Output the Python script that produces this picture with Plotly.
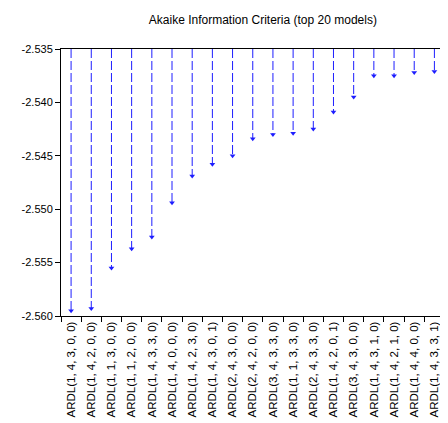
import plotly.graph_objects as go

models = [
    "ARDL(1, 4, 3, 0, 0)", "ARDL(1, 4, 2, 0, 0)", "ARDL(1, 1, 3, 0, 0)", "ARDL(1, 1, 2, 0, 0)",
    "ARDL(1, 4, 3, 3, 0)", "ARDL(1, 4, 0, 0, 0)", "ARDL(1, 4, 2, 3, 0)", "ARDL(1, 4, 3, 0, 1)",
    "ARDL(2, 4, 3, 0, 0)", "ARDL(2, 4, 2, 0, 0)", "ARDL(3, 4, 3, 3, 0)", "ARDL(1, 1, 3, 3, 0)",
    "ARDL(2, 4, 3, 3, 0)", "ARDL(1, 4, 2, 0, 1)", "ARDL(3, 4, 3, 0, 0)", "ARDL(1, 4, 3, 1, 0)",
    "ARDL(1, 4, 2, 1, 0)", "ARDL(1, 4, 4, 0, 0)", "ARDL(1, 4, 3, 3, 1)", "ARDL(3, 4, 2, 0, 0)",
]
aic = [
    -2.5595, -2.5593, -2.5555, -2.5537, -2.5526, -2.5494, -2.5469, -2.5458,
    -2.5450, -2.5434, -2.5430, -2.5429, -2.5425, -2.5409, -2.5395, -2.5375,
    -2.5375, -2.5372, -2.5371, -2.5360,
]
y_top = -2.535
y_bottom = -2.560
y_ticks = [-2.535, -2.540, -2.545, -2.550, -2.555, -2.560]

blue = "rgb(30,30,255)"

lx, ly = [], []
for m, v in zip(models, aic):
    lx += [m, m, None]
    ly += [y_top, v, None]

fig = go.Figure()
fig.add_trace(go.Scatter(
    x=lx, y=ly, mode="lines", connectgaps=False,
    line=dict(color=blue, width=1, dash="9px,3px"), hoverinfo="skip", showlegend=False,
))
fig.add_trace(go.Scatter(
    x=models, y=aic, mode="markers", cliponaxis=False,
    marker=dict(symbol="triangle-down", size=5, color=blue, line=dict(width=0)),
    showlegend=False,
))

fig.update_layout(
    width=448, height=423,
    margin=dict(l=53, r=0, t=41, b=115),
    plot_bgcolor="white", paper_bgcolor="white",
    font=dict(family="Liberation Sans, Arial, sans-serif", color="black", size=11),
    title=dict(text="Akaike Information Criteria (top 20 models)", font=dict(size=12),
               x=0.511, xref="paper", xanchor="center", y=1 - 12 / 423, yref="container", yanchor="middle"),
)
fig.update_xaxes(
    type="category", categoryorder="array", categoryarray=models,
    range=[-0.5, 19.07], tickangle=-90, tickson="boundaries", automargin=False,
    ticks="outside", ticklen=5, tickcolor="black", tickwidth=1,
    showline=True, linecolor="black", linewidth=1, mirror=True,
    showgrid=False, zeroline=False, tickfont=dict(size=11.5),
)
fig.update_yaxes(
    range=[y_bottom, y_top], tickvals=y_ticks, ticktext=[f"{t:.3f}" for t in y_ticks],
    automargin=False,
    ticks="outside", ticklen=5, tickcolor="black", tickwidth=1,
    showline=True, linecolor="black", linewidth=1,
    showgrid=False, zeroline=False,
)

fig.write_html("out.html")
